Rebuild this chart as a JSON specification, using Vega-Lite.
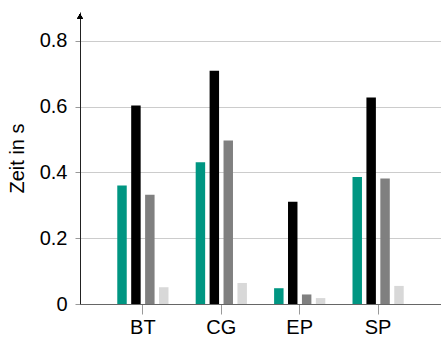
{
  "$schema": "https://vega.github.io/schema/vega-lite/v6.json",
  "width": 361,
  "height": 292,
  "autosize": "none",
  "padding": {"left": 80, "top": 12, "right": 0, "bottom": 36},
  "config": {"view": {"stroke": null}, "font": "Liberation Sans"},
  "data": {"values": [
    {"cat": "BT", "series": "s1", "value": 0.36},
    {"cat": "BT", "series": "s2", "value": 0.604},
    {"cat": "BT", "series": "s3", "value": 0.332},
    {"cat": "BT", "series": "s4", "value": 0.051},
    {"cat": "CG", "series": "s1", "value": 0.431},
    {"cat": "CG", "series": "s2", "value": 0.709},
    {"cat": "CG", "series": "s3", "value": 0.497},
    {"cat": "CG", "series": "s4", "value": 0.064},
    {"cat": "EP", "series": "s1", "value": 0.048},
    {"cat": "EP", "series": "s2", "value": 0.311},
    {"cat": "EP", "series": "s3", "value": 0.029},
    {"cat": "EP", "series": "s4", "value": 0.018},
    {"cat": "SP", "series": "s1", "value": 0.386},
    {"cat": "SP", "series": "s2", "value": 0.628},
    {"cat": "SP", "series": "s3", "value": 0.382},
    {"cat": "SP", "series": "s4", "value": 0.055}
  ]},
  "layer": [
    {
      "mark": {"type": "bar"},
      "encoding": {
        "x": {
          "field": "cat", "type": "nominal",
          "scale": {"paddingInner": 0.29, "paddingOuter": 0.447},
          "axis": {"title": null, "labelAngle": 0, "labelFontSize": 20, "labelColor": "#000", "tickSize": 10, "tickColor": "#999", "domainColor": "#666", "labelPadding": 3, "grid": false}
        },
        "xOffset": {
          "field": "series", "type": "nominal",
          "scale": {"paddingInner": 0.32, "paddingOuter": 0.16}
        },
        "y": {
          "field": "value", "type": "quantitative",
          "scale": {"domain": [0, 0.888], "nice": false},
          "axis": {"values": [0, 0.2, 0.4, 0.6, 0.8], "format": "~g", "title": "Zeit in s", "titleFontSize": 20, "titleFontWeight": "normal", "titleColor": "#000", "titlePadding": 12, "labelFontSize": 20, "labelColor": "#000", "labelPadding": 8, "tickSize": 5, "tickColor": "#999", "domainColor": "#222", "gridColor": "#ccc"}
        },
        "color": {
          "field": "series", "type": "nominal",
          "scale": {"domain": ["s1", "s2", "s3", "s4"], "range": ["#009682", "#000000", "#808080", "#d8d8d8"]},
          "legend": null
        }
      }
    },
    {
      "mark": {"type": "point", "shape": "triangle-up", "filled": true, "color": "#000", "size": 25, "opacity": 1},
      "encoding": {"x": {"value": 0}, "y": {"datum": 0.875}}
    }
  ]
}
